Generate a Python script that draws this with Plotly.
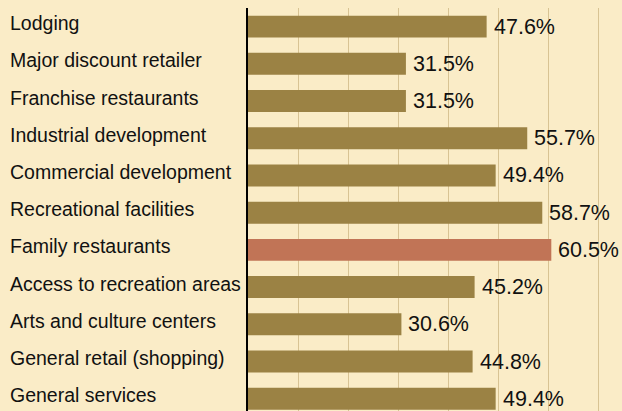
import plotly.graph_objects as go

categories = [
    "Lodging",
    "Major discount retailer",
    "Franchise restaurants",
    "Industrial development",
    "Commercial development",
    "Recreational facilities",
    "Family restaurants",
    "Access to recreation areas",
    "Arts and culture centers",
    "General retail (shopping)",
    "General services",
]
values = [47.6, 31.5, 31.5, 55.7, 49.4, 58.7, 60.5, 45.2, 30.6, 44.8, 49.4]
value_labels = ["47.6%", "31.5%", "31.5%", "55.7%", "49.4%", "58.7%", "60.5%", "45.2%", "30.6%", "44.8%", "49.4%"]
highlight = "Family restaurants"

BG = "#FAECC7"
OLIVE = "#9B8244"
RED = "#C17456"
GRID = "#D8C393"

colors = [RED if c == highlight else OLIVE for c in categories]
positions = list(range(len(categories)))

fig = go.Figure(
    go.Bar(
        x=values,
        y=positions,
        orientation="h",
        marker=dict(color=colors, line=dict(width=0)),
        width=0.59,
        hoverinfo="skip",
    )
)

W, H = 622, 411
L_MARGIN = 247.5
plot_w = W - L_MARGIN

annotations = []
for p, c in zip(positions, categories):
    annotations.append(dict(
        x=(7 - L_MARGIN) / plot_w, xref="paper", y=p, yref="y",
        text=c, showarrow=False, xanchor="left", yanchor="middle", yshift=3.5,
        font=dict(family="Liberation Sans, Arial, sans-serif", size=19.5, color="#111111"),
    ))
for p, v, t in zip(positions, values, value_labels):
    annotations.append(dict(
        x=v, xref="x", y=p, yref="y",
        text=t, showarrow=False, xanchor="left", yanchor="middle", xshift=5,
        font=dict(family="Liberation Sans Narrow, Arial Narrow, sans-serif", size=21.5, color="#111111"),
    ))

fig.update_layout(
    width=W, height=H,
    margin=dict(l=L_MARGIN, r=0, t=8.2, b=0, pad=0),
    paper_bgcolor=BG, plot_bgcolor=BG,
    showlegend=False,
    annotations=annotations,
    xaxis=dict(
        range=[0, plot_w / 5.02],
        tickmode="linear", tick0=0, dtick=10,
        showgrid=True, gridcolor=GRID, gridwidth=1.2,
        zeroline=False, showticklabels=False, ticks="",
        showline=False, fixedrange=True,
    ),
    yaxis=dict(
        range=[10.33, -0.5],
        showgrid=False, zeroline=False, showticklabels=False, ticks="",
        showline=True, linecolor="#000000", linewidth=1.5,
        layer="below traces", fixedrange=True,
    ),
)

fig.write_html(
    "out.html",
    config={"displayModeBar": False},
    post_script="document.body.style.margin='0';document.body.style.overflow='hidden';",
)
